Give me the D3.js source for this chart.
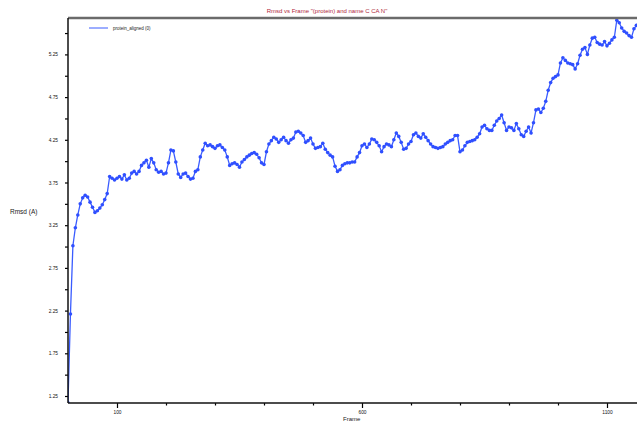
<!DOCTYPE html>
<html lang="en">
<head>
    <meta charset="UTF-8">
    <script src="https://d3js.org/d3.v7.min.js"></script>
    <style>
        body { margin: 0; background: #fff; }
        text { font-family: "Liberation Sans", Arial, sans-serif; }
    </style>
</head>
<body>
<div id="chart"></div>
<script>
    var frameStep = 5;
    var rmsd = [
        1.17, 2.21, 3.01, 3.22, 3.37, 3.50, 3.57, 3.60, 3.58, 3.52,
        3.46, 3.40, 3.42, 3.45, 3.49, 3.55, 3.62, 3.82, 3.80, 3.78,
        3.80, 3.82, 3.79, 3.84, 3.78, 3.80, 3.86, 3.88, 3.85, 3.88,
        3.95, 3.98, 4.01, 3.93, 4.03, 3.98, 3.90, 3.87, 3.88, 3.85,
        3.86, 3.98, 4.13, 4.12, 3.99, 3.85, 3.81, 3.85, 3.86, 3.82,
        3.79, 3.80, 3.88, 3.90, 4.05, 4.13, 4.21, 4.18, 4.19, 4.17,
        4.15, 4.18, 4.19, 4.16, 4.13, 4.05, 3.95, 3.97, 3.98, 3.96,
        3.93, 3.99, 4.02, 4.05, 4.07, 4.09, 4.10, 4.08, 4.04, 3.98,
        3.96, 4.11, 4.20, 4.24, 4.28, 4.26, 4.22, 4.25, 4.28, 4.24,
        4.21, 4.25, 4.27, 4.34, 4.35, 4.33, 4.30, 4.22, 4.24, 4.27,
        4.20, 4.15, 4.16, 4.17, 4.21, 4.14, 4.10, 4.07, 4.05, 3.94,
        3.88, 3.90, 3.95, 3.97, 3.98, 3.98, 3.99, 3.99, 4.05, 4.10,
        4.18, 4.20, 4.16, 4.20, 4.26, 4.25, 4.22, 4.18, 4.11, 4.17,
        4.20, 4.19, 4.17, 4.25, 4.33, 4.29, 4.22, 4.14, 4.15, 4.20,
        4.23, 4.31, 4.33, 4.29, 4.27, 4.32, 4.28, 4.24, 4.20, 4.17,
        4.16, 4.15, 4.16, 4.17, 4.20, 4.22, 4.24, 4.25, 4.30, 4.30,
        4.11, 4.13, 4.18, 4.22, 4.23, 4.24, 4.25, 4.28, 4.32, 4.40,
        4.42, 4.38, 4.36, 4.36, 4.42, 4.47, 4.50, 4.54, 4.45, 4.36,
        4.40, 4.39, 4.36, 4.44, 4.38, 4.31, 4.29, 4.35, 4.40, 4.33,
        4.45, 4.60, 4.61, 4.57, 4.62, 4.70, 4.83, 4.92, 4.97, 4.99,
        5.01, 5.15, 5.21, 5.18, 5.15, 5.14, 5.13, 5.08, 5.14, 5.24,
        5.31, 5.33, 5.25, 5.36, 5.44, 5.45, 5.39, 5.37, 5.36, 5.40,
        5.35, 5.38, 5.42, 5.45, 5.65, 5.62, 5.56, 5.52, 5.50, 5.47,
        5.45, 5.55, 5.59
    ];
    var yLabelTicks = [1.25, 1.75, 2.25, 2.75, 3.25, 3.75, 4.25, 4.75, 5.25];
    var yMinorTicks = [1.5, 2.0, 2.5, 3.0, 3.5, 4.0, 4.5, 5.0, 5.5];
    var xLabelTicks = [100, 600, 1100];
    var xMinorTicks = [200, 300, 400, 500, 700, 800, 900, 1000];

    var data = rmsd.map(function (v, i) { return { frame: i * frameStep, rmsd: v }; });

    var width = 637, height = 423;
    var plotLeft = 68, plotTop = 18, plotBottom = 403;

    var svg = d3.select("#chart").append("svg")
        .attr("width", width)
        .attr("height", height);

    var x = d3.scaleLinear().domain([0, 1200]).range([plotLeft, plotLeft + 1200 * 0.49]);
    var y = d3.scaleLinear().domain([1.25, 5.25]).range([396, 54.4]);

    svg.append("defs").append("clipPath").attr("id", "clip")
        .append("rect").attr("x", plotLeft).attr("y", plotTop)
        .attr("width", width - plotLeft).attr("height", plotBottom - plotTop);

    // title
    svg.append("text")
        .attr("x", 327).attr("y", 13)
        .attr("text-anchor", "middle")
        .attr("font-size", 6)
        .attr("fill", "#b0283c")
        .text('Rmsd vs Frame "(protein) and name C CA N"');

    // series
    var g = svg.append("g").attr("clip-path", "url(#clip)");
    var line = d3.line()
        .x(function (d) { return x(d.frame); })
        .y(function (d) { return y(d.rmsd); });
    g.append("path")
        .datum(data)
        .attr("d", line)
        .attr("fill", "none")
        .attr("stroke", "#3a5cff")
        .attr("stroke-width", 1.3);
    g.selectAll("circle")
        .data(data)
        .enter()
        .append("circle")
        .attr("cx", function (d) { return x(d.frame); })
        .attr("cy", function (d) { return y(d.rmsd); })
        .attr("r", 1.8)
        .attr("fill", "#2f4fff");

    // top border
    svg.append("line")
        .attr("x1", plotLeft).attr("x2", width)
        .attr("y1", plotTop).attr("y2", plotTop)
        .attr("stroke", "#6b6b6b").attr("stroke-width", 2.5);

    // y axis
    var yAxis = d3.axisLeft(y).tickValues(yLabelTicks).tickSize(3).tickPadding(7)
        .tickFormat(d3.format(".2f"));
    var ya = svg.append("g").attr("transform", "translate(" + plotLeft + ",0)").call(yAxis);
    ya.select(".domain").remove();
    ya.selectAll("text").attr("font-size", 4.8).attr("fill", "#111");
    ya.selectAll("line").attr("stroke-width", 1.2);
    svg.append("g").attr("transform", "translate(" + plotLeft + ",0)")
        .call(d3.axisLeft(y).tickValues(yMinorTicks).tickSize(3).tickFormat(""))
        .call(function (s) { s.select(".domain").remove(); s.selectAll("line").attr("stroke-width", 1.2); });
    svg.append("line")
        .attr("x1", plotLeft).attr("x2", plotLeft).attr("y1", plotTop).attr("y2", plotBottom)
        .attr("stroke", "#111").attr("stroke-width", 1.5);

    // x axis
    var xa = svg.append("g").attr("transform", "translate(0," + plotBottom + ")")
        .call(d3.axisBottom(x).tickValues(xLabelTicks).tickSize(5).tickPadding(3).tickFormat(d3.format("d")));
    xa.select(".domain").remove();
    xa.selectAll("text").attr("font-size", 4.8).attr("fill", "#111");
    xa.selectAll("line").attr("stroke-width", 1.2);
    svg.append("g").attr("transform", "translate(0," + plotBottom + ")")
        .call(d3.axisBottom(x).tickValues(xMinorTicks).tickSize(2.5).tickFormat(""))
        .call(function (s) { s.select(".domain").remove(); s.selectAll("line").attr("stroke-width", 1.2); });
    svg.append("line")
        .attr("x1", plotLeft).attr("x2", width).attr("y1", plotBottom).attr("y2", plotBottom)
        .attr("stroke", "#111").attr("stroke-width", 1.5);

    // axis titles
    svg.append("text")
        .attr("x", 10).attr("y", 214)
        .attr("font-size", 6.5).attr("fill", "#222")
        .text("Rmsd (A)");
    svg.append("text")
        .attr("x", 343).attr("y", 421)
        .attr("font-size", 6).attr("fill", "#222")
        .text("Frame");

    // legend
    svg.append("line")
        .attr("x1", 89).attr("x2", 108).attr("y1", 28).attr("y2", 28)
        .attr("stroke", "#3a5cff").attr("stroke-width", 1);
    svg.append("text")
        .attr("x", 113).attr("y", 29.5)
        .attr("font-size", 4.5).attr("fill", "#222")
        .text("protein_aligned (0)");
</script>
</body>
</html>
